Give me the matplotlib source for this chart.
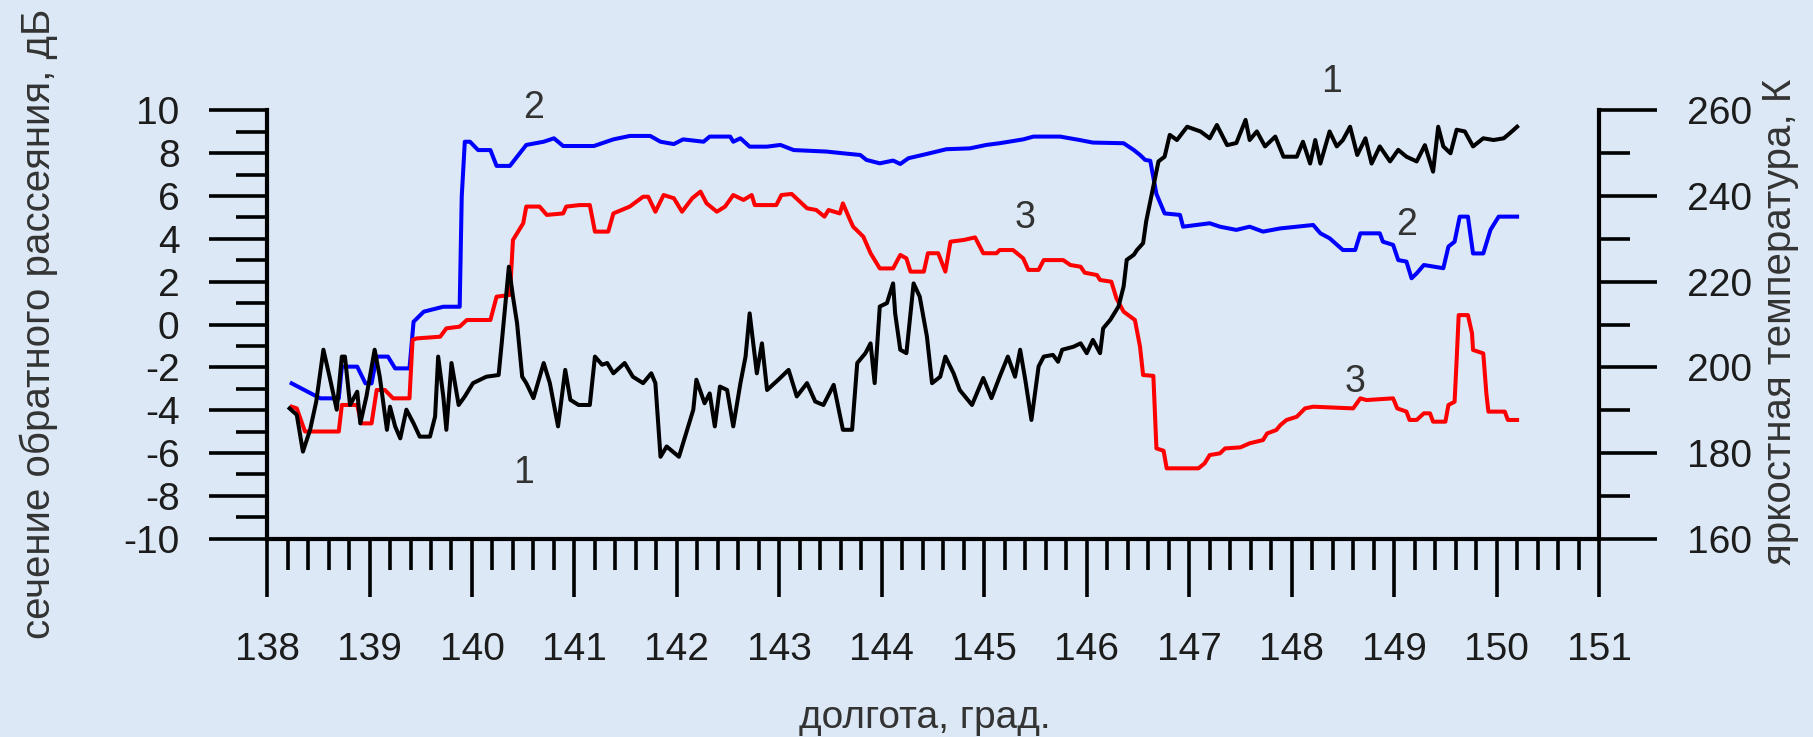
import matplotlib.pyplot as plt
from matplotlib.ticker import MultipleLocator

plt.rcParams['font.family'] = ['Liberation Sans', 'DejaVu Sans']
plt.rcParams['axes.unicode_minus'] = False

# --- curve 2 (blue), backscatter, dB ---
lon_2 = [138.24, 138.52, 138.70, 138.73, 138.88, 138.96, 139.02, 139.07, 139.18, 139.25,
         139.39, 139.43, 139.53, 139.72, 139.88, 139.90, 139.93, 139.98, 140.06, 140.18,
         140.24, 140.37, 140.44, 140.53, 140.70, 140.80, 140.89, 141.19, 141.38, 141.54,
         141.74, 141.84, 141.97, 142.06, 142.26, 142.32, 142.52, 142.55, 142.62, 142.71,
         142.88, 143.01, 143.14, 143.46, 143.62, 143.79, 143.85, 143.98, 144.11, 144.18,
         144.26, 144.44, 144.63, 144.86, 145.02, 145.15, 145.38, 145.48, 145.74, 145.93,
         146.06, 146.36, 146.46, 146.52, 146.57, 146.62, 146.68, 146.76, 146.91, 146.94,
         147.20, 147.30, 147.46, 147.59, 147.72, 147.89, 148.21, 148.28, 148.37, 148.50,
         148.62, 148.67, 148.86, 148.89, 148.99, 149.04, 149.12, 149.17, 149.22, 149.29,
         149.48, 149.53, 149.59, 149.64, 149.72, 149.77, 149.87, 149.94, 150.02, 150.20]
sigma_2 = [-2.75, -3.45, -3.45, -1.97, -1.97, -2.75, -2.75, -1.50, -1.50, -2.05,
           -2.05, 0.13, 0.60, 0.83, 0.83, 5.97, 8.54, 8.54, 8.15, 8.15,
           7.41, 7.41, 7.84, 8.39, 8.54, 8.70, 8.34, 8.34, 8.65, 8.81,
           8.81, 8.54, 8.43, 8.65, 8.54, 8.78, 8.78, 8.54, 8.70, 8.31,
           8.31, 8.39, 8.15, 8.08, 8.00, 7.92, 7.69, 7.53, 7.66, 7.50,
           7.77, 7.97, 8.19, 8.23, 8.39, 8.47, 8.65, 8.78, 8.78, 8.62,
           8.50, 8.47, 8.15, 7.92, 7.69, 7.65, 6.10, 5.19, 5.12, 4.57,
           4.73, 4.57, 4.42, 4.57, 4.34, 4.49, 4.65, 4.26, 4.03, 3.48,
           3.48, 4.26, 4.26, 3.87, 3.72, 3.01, 2.94, 2.16, 2.39, 2.78,
           2.63, 3.64, 3.87, 5.04, 5.04, 3.32, 3.32, 4.42, 5.04, 5.04]

# --- curve 3 (red), backscatter, dB ---
lon_3 = [138.24, 138.29, 138.37, 138.70, 138.73, 138.88, 138.92, 139.02, 139.07, 139.15,
         139.23, 139.39, 139.42, 139.46, 139.69, 139.75, 139.88, 139.95, 140.18, 140.24,
         140.37, 140.40, 140.50, 140.53, 140.66, 140.73, 140.89, 140.92, 141.05, 141.15,
         141.20, 141.33, 141.38, 141.54, 141.67, 141.72, 141.79, 141.87, 141.97, 142.05,
         142.15, 142.23, 142.29, 142.39, 142.47, 142.55, 142.65, 142.73, 142.76, 142.97,
         143.02, 143.12, 143.20, 143.27, 143.36, 143.44, 143.48, 143.59, 143.62, 143.69,
         143.72, 143.82, 143.89, 143.98, 144.11, 144.18, 144.24, 144.28, 144.41, 144.45,
         144.55, 144.62, 144.67, 144.80, 144.91, 144.99, 145.12, 145.15, 145.28, 145.38,
         145.43, 145.53, 145.58, 145.77, 145.84, 145.94, 145.98, 146.10, 146.13, 146.24,
         146.29, 146.36, 146.47, 146.52, 146.55, 146.65, 146.68, 146.75, 146.78, 147.09,
         147.15, 147.20, 147.30, 147.35, 147.50, 147.59, 147.72, 147.76, 147.85, 147.89,
         147.95, 148.05, 148.13, 148.21, 148.60, 148.67, 148.73, 148.99, 149.03, 149.12,
         149.15, 149.22, 149.29, 149.35, 149.38, 149.50, 149.53, 149.59, 149.61, 149.63,
         149.72, 149.76, 149.77, 149.87, 149.90, 149.92, 150.08, 150.11, 150.20]
sigma_3 = [-3.84, -3.92, -5.00, -5.00, -3.76, -3.76, -4.62, -4.62, -3.06, -3.06,
           -3.45, -3.45, -0.72, -0.65, -0.57, -0.18, -0.10, 0.21, 0.21, 1.30,
           1.38, 3.95, 4.73, 5.51, 5.51, 5.12, 5.19, 5.51, 5.58, 5.58,
           4.34, 4.34, 5.19, 5.51, 5.97, 5.97, 5.27, 6.05, 5.90, 5.27,
           5.90, 6.21, 5.66, 5.27, 5.51, 6.05, 5.82, 6.05, 5.58, 5.58,
           6.05, 6.10, 5.74, 5.43, 5.35, 5.04, 5.35, 5.19, 5.66, 4.88,
           4.57, 4.10, 3.33, 2.62, 2.62, 3.25, 3.09, 2.47, 2.47, 3.33,
           3.33, 2.47, 3.87, 3.95, 4.07, 3.33, 3.33, 3.48, 3.48, 3.09,
           2.55, 2.55, 3.01, 3.01, 2.78, 2.70, 2.42, 2.31, 2.08, 2.00,
           1.22, 0.60, 0.21, -1.04, -2.36, -2.40, -5.79, -5.90, -6.72, -6.72,
           -6.49, -6.10, -6.02, -5.79, -5.74, -5.55, -5.40, -5.09, -4.93, -4.70,
           -4.46, -4.31, -3.92, -3.84, -3.92, -3.45, -3.53, -3.45, -3.92, -4.07,
           -4.46, -4.46, -4.15, -4.15, -4.54, -4.54, -3.76, -3.61, -1.66, 0.44,
           0.44, -0.41, -1.19, -1.35, -3.22, -4.07, -4.07, -4.46, -4.46]

# --- curve 1 (black), brightness temperature, K ---
lon_1 = [138.22, 138.29, 138.35, 138.42, 138.48, 138.55, 138.61, 138.68, 138.73, 138.76,
         138.81, 138.88, 138.91, 138.97, 139.05, 139.10, 139.17, 139.20, 139.25, 139.30,
         139.36, 139.43, 139.49, 139.59, 139.64, 139.67, 139.72, 139.75, 139.80, 139.87,
         139.93, 140.01, 140.14, 140.26, 140.29, 140.36, 140.40, 140.44, 140.49, 140.53,
         140.60, 140.70, 140.76, 140.84, 140.91, 140.96, 141.04, 141.15, 141.20, 141.27,
         141.32, 141.38, 141.49, 141.57, 141.67, 141.75, 141.79, 141.84, 141.90, 142.02,
         142.10, 142.16, 142.19, 142.27, 142.32, 142.37, 142.42, 142.49, 142.55, 142.62,
         142.67, 142.71, 142.78, 142.83, 142.88, 142.99, 143.09, 143.17, 143.27, 143.35,
         143.43, 143.53, 143.62, 143.71, 143.76, 143.84, 143.89, 143.93, 143.98, 144.05,
         144.11, 144.13, 144.18, 144.24, 144.31, 144.37, 144.44, 144.49, 144.57, 144.62,
         144.70, 144.76, 144.88, 144.99, 145.07, 145.15, 145.23, 145.30, 145.35, 145.40,
         145.46, 145.53, 145.58, 145.67, 145.72, 145.76, 145.87, 145.94, 146.00, 146.06,
         146.13, 146.16, 146.23, 146.31, 146.36, 146.39, 146.46, 146.49, 146.55, 146.58,
         146.65, 146.70, 146.76, 146.81, 146.88, 146.98, 147.11, 147.20, 147.27, 147.37,
         147.46, 147.55, 147.59, 147.66, 147.74, 147.84, 147.92, 148.05, 148.11, 148.18,
         148.23, 148.28, 148.37, 148.44, 148.50, 148.57, 148.64, 148.72, 148.78, 148.86,
         148.96, 149.04, 149.12, 149.22, 149.30, 149.38, 149.43, 149.48, 149.55, 149.61,
         149.69, 149.77, 149.87, 149.97, 150.07, 150.13, 150.20]
tb_1 = [190.4, 188.9, 180.3, 185.4, 192.0, 204.1, 197.8, 190.1, 202.5, 202.5,
        191.2, 194.3, 186.9, 193.2, 204.1, 197.8, 185.4, 190.8, 186.2, 183.4,
        190.1, 186.9, 183.8, 183.8, 188.5, 202.5, 193.2, 185.4, 201.0, 191.2,
        193.2, 196.3, 197.8, 198.2, 205.6, 223.5, 216.5, 210.3, 197.8, 196.3,
        192.8, 201.0, 196.3, 186.2, 199.4, 192.4, 191.2, 191.2, 202.5, 200.6,
        201.0, 198.6, 201.0, 197.8, 196.3, 198.6, 196.3, 179.1, 181.5, 179.1,
        185.4, 190.1, 197.1, 191.6, 193.9, 186.2, 195.5, 194.7, 186.2, 196.3,
        202.5, 212.6, 198.6, 205.6, 194.7, 197.1, 199.4, 193.2, 196.3, 192.0,
        191.2, 195.9, 185.4, 185.4, 201.0, 203.3, 205.6, 196.3, 214.2, 215.0,
        219.6, 212.6, 204.1, 203.3, 219.6, 216.5, 207.2, 196.3, 197.8, 202.5,
        198.6, 194.7, 191.2, 197.5, 192.8, 197.8, 202.5, 197.8, 204.1, 197.1,
        187.7, 200.2, 202.5, 202.9, 201.3, 204.1, 204.8, 205.6, 203.3, 206.4,
        203.3, 209.1, 211.1, 214.2, 218.9, 225.1, 226.3, 227.4, 229.0, 234.1,
        242.2, 248.1, 249.2, 254.3, 253.1, 256.2, 255.1, 253.5, 256.6, 251.9,
        252.4, 257.8, 253.1, 255.1, 251.6, 253.9, 249.2, 249.2, 252.7, 247.6,
        253.1, 247.6, 255.1, 251.6, 253.1, 256.2, 249.6, 253.5, 247.6, 251.6,
        248.1, 250.8, 249.2, 248.1, 251.9, 245.7, 256.2, 251.6, 250.0, 255.5,
        255.1, 251.6, 253.5, 253.1, 253.5, 254.7, 256.2]

# curve number labels: (text, lon, dB)
curve_labels = ["2", "1", "3", "1", "2", "3"]
label_lon = [140.60, 140.50, 145.40, 148.39, 149.12, 148.62]
label_db = [10.10, -6.95, 4.96, 11.35, 4.65, -2.67]

bg = "#dce8f5"
ink = "#1c1c1c"
grey = "#333333"

fig = plt.figure(figsize=(18.13, 7.37), dpi=100, facecolor=bg)
ax = fig.add_axes([0.1473, 0.2693, 0.7347, 0.5808])
ax.set_facecolor("none")
ax2 = ax.twinx()

ax.plot(lon_2, sigma_2, color="#0000ff", lw=2.9)
ax.plot(lon_3, sigma_3, color="#ff0000", lw=2.9)
ax2.plot(lon_1, tb_1, color="black", lw=2.9)

for t, x, y in zip(curve_labels, label_lon, label_db):
    ax.text(x, y, t, fontsize=27, color=grey, ha="center", va="center",
            clip_on=False)

ax.set_xlim(138, 151)
ax.set_ylim(-10, 10)
ax2.set_ylim(160, 260)

ax.xaxis.set_major_locator(MultipleLocator(1))
ax.xaxis.set_minor_locator(MultipleLocator(0.2))
ax.yaxis.set_major_locator(MultipleLocator(2))
ax.yaxis.set_minor_locator(MultipleLocator(1))
ax2.yaxis.set_major_locator(MultipleLocator(20))
ax2.yaxis.set_minor_locator(MultipleLocator(10))

for a in (ax, ax2):
    a.tick_params(which="major", direction="out", length=42, width=2.6,
                  labelsize=28, labelcolor=ink, color="black")
    a.tick_params(which="minor", direction="out", length=22, width=2.6,
                  color="black")
    for s in a.spines.values():
        s.set_linewidth(3)
        s.set_visible(False)

ax.spines["left"].set_visible(True)
ax.spines["bottom"].set_visible(True)
ax2.spines["right"].set_visible(True)

ax.tick_params(axis="y", which="major", pad=21)
ax.tick_params(axis="x", which="major", pad=25)
ax2.tick_params(axis="y", which="major", pad=21)

fig.text(0.0215, 0.56, "сечение обратного рассеяния, дБ", rotation=90,
         fontsize=29, color=grey, ha="center", va="center")
fig.text(0.982, 0.563, "яркостная температура, К", rotation=90,
         fontsize=29, color=grey, ha="center", va="center")
fig.text(0.510, 0.026, "долгота, град.", fontsize=28, color=grey,
         ha="center", va="center")

fig.savefig("out.png", dpi=100, facecolor=bg)
